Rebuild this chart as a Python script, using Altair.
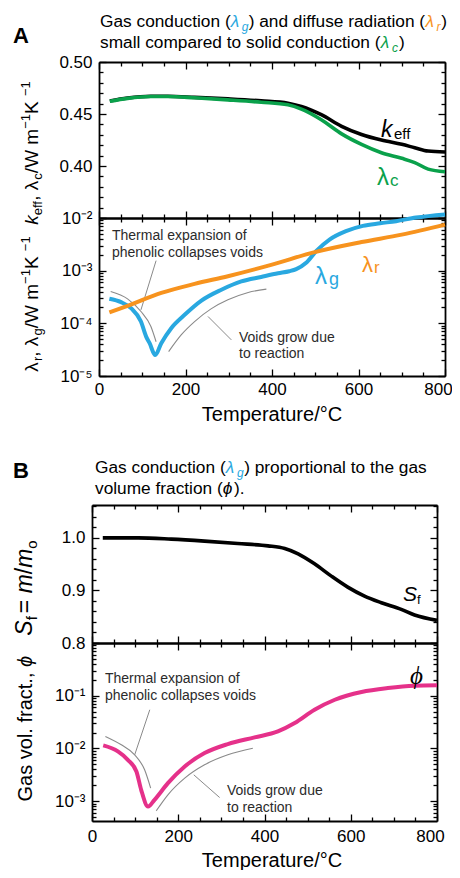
import altair as alt
import pandas as pd

# ------------------------------------------------------------------
# Values
# ------------------------------------------------------------------
# Panel A (top): effective conductivity and solid conduction, W m^-1 K^-1
T_cond = [25, 66, 120, 159, 221, 298, 375, 437, 468, 514, 561, 607, 653, 700, 730, 761, 800]
k_eff = [0.4625, 0.4653, 0.4670, 0.4670, 0.4660, 0.4645, 0.4626, 0.4604, 0.4572, 0.4493,
         0.4382, 0.4303, 0.4249, 0.4208, 0.4176, 0.4144, 0.4135]
lam_c = [0.4622, 0.4650, 0.4668, 0.4668, 0.4656, 0.4636, 0.4613, 0.4588, 0.4547, 0.4445,
         0.4309, 0.4208, 0.4128, 0.4074, 0.4033, 0.3970, 0.3945]

# Panel A (bottom): gas conduction and diffuse radiation
T_gas = [24, 51, 74, 97, 109, 117, 130, 144, 167, 198, 236, 283, 329, 375, 414, 440, 456,
         479, 502, 533, 571, 610, 650, 687, 733, 800]
lam_g = [2.92e-4, 2.52e-4, 1.94e-4, 1.08e-4, 5.6e-5, 4.2e-5, 2.5e-5, 4.2e-5, 8.1e-5, 1.45e-4,
         2.67e-4, 4.34e-4, 6.24e-4, 7.59e-4, 8.91e-4, 9.77e-4, 1.07e-3, 1.41e-3, 2.34e-3,
         3.89e-3, 5.62e-3, 7.08e-3, 7.94e-3, 8.71e-3, 1.02e-2, 1.17e-2]
T_rad = [24, 66, 144, 221, 298, 398, 499, 607, 700, 800]
lam_r = [1.62e-4, 2.15e-4, 3.78e-4, 5.61e-4, 7.85e-4, 1.29e-3, 2.25e-3, 3.49e-3, 4.83e-3, 7.48e-3]

# Panel B (top): mass fraction S_f = m/m0
T_mass = [25, 107, 184, 261, 338, 408, 447, 478, 516, 555, 593, 632, 671, 717, 748, 800]
S_f = [1.0, 1.0, 0.9975, 0.9937, 0.9892, 0.9848, 0.9797, 0.9696, 0.9506, 0.9272, 0.9063,
       0.8892, 0.8766, 0.8639, 0.8532, 0.8430]

# Panel B (bottom): gas volume fraction phi
T_phi = [26, 60, 83, 103, 114, 130, 145, 176, 215, 261, 315, 377, 431, 470, 516, 563, 625,
         686, 748, 800]
phi = [1.14e-2, 8.77e-3, 6.08e-3, 3.66e-3, 1.64e-3, 7.9e-4, 1.06e-3, 2.19e-3, 4.55e-3,
       8.15e-3, 1.21e-2, 1.62e-2, 2.10e-2, 3.03e-2, 5.42e-2, 8.38e-2, 0.1175, 0.1396, 0.1545,
       0.1574]

# Thin grey guide curves and leader lines (annotation)
A_guide_left_T = [27, 66, 97, 120, 132]
A_guide_left_v = [4.03e-4, 2.92e-4, 1.68e-4, 8.7e-5, 4.47e-5]
A_guide_right_T = [161, 190, 221, 259, 298, 345, 387]
A_guide_right_v = [2.91e-5, 6.04e-5, 1.08e-4, 1.88e-4, 2.79e-4, 3.85e-4, 4.46e-4]
A_lead_thermal_T = [97, 132]
A_lead_thermal_v = [1.8e-4, 1.55e-3]
A_lead_voids_T = [252, 306]
A_lead_voids_v = [1.35e-4, 4.85e-5]

B_guide_left_T = [31, 68, 99, 122, 136]
B_guide_left_v = [1.69e-2, 1.17e-2, 7.57e-3, 3.93e-3, 1.77e-3]
B_guide_right_T = [149, 176, 215, 261, 315, 373]
B_guide_right_v = [6.55e-4, 1.32e-3, 2.73e-3, 4.89e-3, 7.57e-3, 1.01e-2]
B_lead_thermal_T = [99, 134]
B_lead_thermal_v = [7.57e-3, 5.42e-2]
B_lead_voids_T = [236, 296]
B_lead_voids_v = [3.16e-3, 1.17e-3]

# Tick values / labels
X_MAJOR = [0, 200, 400, 600, 800]
X_LABELS = [0, 200, 400, 600]
X_LAST_LABEL = [800]
X_MINOR = [50, 100, 150, 250, 300, 350, 450, 500, 550, 650, 700, 750]
A_TOP_MAJOR = [0.35, 0.40, 0.45, 0.50]
A_TOP_MINOR = [0.36, 0.37, 0.38, 0.39, 0.41, 0.42, 0.43, 0.44, 0.46, 0.47, 0.48, 0.49]
A_TOP_LABELS = [0.40, 0.45, 0.50]
B_TOP_MAJOR = [0.8, 0.9, 1.0]
B_TOP_MINOR = [0.82, 0.84, 0.86, 0.88, 0.92, 0.94, 0.96, 0.98, 1.02, 1.04, 1.06]
B_TOP_LABELS = [0.8, 0.9, 1.0]
A_BOT_MAJOR = [1e-5, 1e-4, 1e-3, 1e-2]
A_BOT_MINOR = [k * 10.0 ** e for e in (-5, -4, -3) for k in range(2, 10)]
A_BOT_LABELS = [1e-5, 1e-4, 1e-3, 1e-2]
B_BOT_MAJOR = [1e-3, 1e-2, 1e-1, 1.0]
B_BOT_MINOR = [k * 10.0 ** e for e in (-4, -3, -2, -1) for k in range(2, 10)
               if k * 10.0 ** e > 4.3e-4]
B_BOT_LABELS = [1e-3, 1e-2, 1e-1]

# ------------------------------------------------------------------
# Layout (pixels inside the drawing area) and styles
# ------------------------------------------------------------------
W, H = 444, 862
FONT = "Liberation Sans"
BLUE, ORANGE, GREEN, PINK = "#29A8E0", "#F7931E", "#0AA14B", "#E5318A"
GREY, NOTE = "#8a8a8a", "#2b2b2b"

PANELS = {
    "A_top": dict(xr=(91, 437), yr=(210, 54), ydom=[0.35, 0.50], ytype="linear",
                  ymaj=A_TOP_MAJOR, ymin=A_TOP_MINOR, ylab=A_TOP_LABELS, yfmt=".2f",
                  xlab=False, lpad=6),
    "A_bot": dict(xr=(91, 437), yr=(368, 210), ydom=[1e-5, 1e-2], ytype="log",
                  ymaj=A_BOT_MAJOR, ymin=A_BOT_MINOR, ylab=A_BOT_LABELS, yfmt=None,
                  xlab=True, lpad=5.5),
    "B_top": dict(xr=(84, 429), yr=(635, 497), ydom=[0.8, 1.0625], ytype="linear",
                  ymaj=B_TOP_MAJOR, ymin=B_TOP_MINOR, ylab=B_TOP_LABELS, yfmt=".1f",
                  xlab=False, lpad=6),
    "B_bot": dict(xr=(84, 429), yr=(813, 635), ydom=[4.2e-4, 1.0], ytype="log",
                  ymaj=B_BOT_MAJOR, ymin=B_BOT_MINOR, ylab=B_BOT_LABELS, yfmt=None,
                  xlab=True, lpad=7.5),
}

POW_EXPR = ("datum.value < 5e-5 ? '10⁻⁵' : datum.value < 5e-4 ? '10⁻⁴' : "
            "datum.value < 5e-3 ? '10⁻³' : datum.value < 5e-2 ? '10⁻²' : '10⁻¹'")

AX = dict(grid=False, title=None, domainColor="black", tickColor="black",
          labelColor="black", labelFont=FONT, labelFontSize=17, domainWidth=1.8,
          tickWidth=1.3, labelOverlap=False)


def xscale(p):
    return alt.Scale(type="linear", domain=[0, 800], range=list(p["xr"]), nice=False, zero=False)


def yscale(p):
    if p["ytype"] == "log":
        return alt.Scale(type="log", domain=p["ydom"], range=list(p["yr"]), nice=False)
    return alt.Scale(type="linear", domain=p["ydom"], range=list(p["yr"]), nice=False, zero=False)


def axis_layers(p):
    x0, x1 = p["xr"]
    yb, yt = p["yr"]
    df = pd.DataFrame({"x": [0], "y": [p["ydom"][0]]})
    ylab_kw = dict(format=p["yfmt"]) if p["yfmt"] else dict(labelExpr=POW_EXPR)
    pairs = [
        # labels + left / bottom frame lines
        (alt.Axis(orient="bottom", offset=yb - H, values=X_LABELS, ticks=False, tickSize=0,
                  labels=p["xlab"], labelPadding=p["lpad"], labelFlush=False, format="d",
                  domain=True, **AX),
         alt.Axis(orient="left", offset=-x0, values=p["ylab"], ticks=False, tickSize=0,
                  labelPadding=7, domain=True, **ylab_kw, **AX)),
        # inward major ticks, bottom & left
        (alt.Axis(orient="top", offset=-yb, values=X_MAJOR, tickSize=7, labels=False,
                  domain=False, **AX),
         alt.Axis(orient="right", offset=x0 - W, values=p["ymaj"], tickSize=7, labels=False,
                  domain=False, **AX)),
        # inward minor ticks, bottom & left
        (alt.Axis(orient="top", offset=-yb, values=X_MINOR, tickSize=4, labels=False,
                  domain=False, **AX),
         alt.Axis(orient="right", offset=x0 - W, values=p["ymin"], tickSize=4, labels=False,
                  domain=False, **AX)),
        # top & right frame lines with inward major ticks
        (alt.Axis(orient="bottom", offset=yt - H, values=X_MAJOR, tickSize=7, labels=False,
                  domain=True, **AX),
         alt.Axis(orient="left", offset=-x1, values=p["ymaj"], tickSize=7, labels=False,
                  domain=True, **AX)),
        # top & right inward minor ticks
        (alt.Axis(orient="bottom", offset=yt - H, values=X_MINOR, tickSize=4, labels=False,
                  domain=False, **AX),
         alt.Axis(orient="left", offset=-x1, values=p["ymin"], tickSize=4, labels=False,
                  domain=False, **AX)),
    ]
    if p["xlab"]:
        # last x label nudged left so that it stays inside the page
        pairs.append((alt.Axis(orient="bottom", offset=yb - H, values=X_LAST_LABEL, ticks=False,
                               tickSize=0, labels=True, labelPadding=p["lpad"],
                               labelFlush=False, labelOffset=-7, format="d", domain=False,
                               **AX),
                      None))
    out = []
    for xa, ya in pairs:
        out.append(alt.Chart(df).mark_point(opacity=0, size=1).encode(
            x=alt.X("x:Q", scale=xscale(p), axis=xa),
            y=alt.Y("y:Q", scale=yscale(p), axis=ya)))
    return out


def line(T, V, p, color, width, interp="monotone"):
    df = pd.DataFrame({"T": T, "v": V})
    return alt.Chart(df).mark_line(color=color, strokeWidth=width, interpolate=interp).encode(
        x=alt.X("T:Q", scale=xscale(p), axis=None),
        y=alt.Y("v:Q", scale=yscale(p), axis=None))


ONE = pd.DataFrame({"k": [0]})

WID = {' ': 278, '!': 278, '(': 333, ')': 333, ',': 278, '-': 333, '.': 278, '/': 278,
       '=': 584, '°': 400, '−': 584, 'λ': 560, 'ϕ': 620,
       'A': 667, 'B': 667, 'C': 722, 'G': 778, 'K': 667, 'S': 667, 'T': 611, 'V': 667,
       'W': 944, 'a': 556, 'b': 556, 'c': 500, 'd': 556, 'e': 556, 'f': 278, 'g': 556,
       'h': 556, 'i': 222, 'k': 500, 'l': 222, 'm': 833, 'n': 556, 'o': 556, 'p': 556,
       'r': 333, 's': 500, 't': 278, 'u': 556, 'v': 500, 'x': 500, 'y': 500}


def tw(s, size):
    return sum(WID.get(ch, 556) for ch in s) * size / 1000.0


def txt(x, y, s, size, color="black", style="normal", weight="normal", angle=0,
        font=FONT, align="left"):
    return alt.Chart(ONE).mark_text(
        text=s, fontSize=size, color=color, fontStyle=style, fontWeight=weight,
        angle=angle, font=font, align=align, baseline="alphabetic").encode(
        x=alt.value(x), y=alt.value(y))


def seg_line(x, y, segs):
    out = []
    for s, size, color, style, shift, gap in segs:
        out.append(txt(x, y + shift, s, size, color, style))
        x += tw(s, size) + gap
    return out


def seg_rot(xb, yc, segs):
    total = sum(tw(sg[0], sg[1]) + sg[5] for sg in segs)
    y = yc + total / 2
    out = []
    for s, size, color, style, shift, gap in segs:
        out.append(txt(xb + shift, y, s, size, color, style, angle=270))
        y -= tw(s, size) + gap
    return out


layers = []
for p in PANELS.values():
    layers += axis_layers(p)

PA, PB = PANELS["A_bot"], PANELS["B_bot"]
# grey guides and leader lines
for T, V in [(A_guide_left_T, A_guide_left_v), (A_guide_right_T, A_guide_right_v)]:
    layers.append(line(T, V, PA, GREY, 1.1))
for T, V in [(A_lead_thermal_T, A_lead_thermal_v), (A_lead_voids_T, A_lead_voids_v)]:
    layers.append(line(T, V, PA, GREY, 1.0, "linear"))
for T, V in [(B_guide_left_T, B_guide_left_v), (B_guide_right_T, B_guide_right_v)]:
    layers.append(line(T, V, PB, GREY, 1.1))
for T, V in [(B_lead_thermal_T, B_lead_thermal_v), (B_lead_voids_T, B_lead_voids_v)]:
    layers.append(line(T, V, PB, GREY, 1.0, "linear"))

# data curves
layers.append(line(T_cond, k_eff, PANELS["A_top"], "black", 3.6))
layers.append(line(T_cond, lam_c, PANELS["A_top"], GREEN, 3.6))
layers.append(line(T_gas, lam_g, PA, BLUE, 4))
layers.append(line(T_rad, lam_r, PA, ORANGE, 4))
layers.append(line(T_mass, S_f, PANELS["B_top"], "black", 3.6))
layers.append(line(T_phi, phi, PB, PINK, 4))

# panel letters and headers
F = 17.3
K = "black"
layers.append(txt(5, 35, "A", 22, weight="bold"))
layers += seg_line(92, 19, [("Gas conduction (", F, K, "normal", 0, 0),
                            ("λ", F, BLUE, "italic", 0, 1.2), ("g", 12, BLUE, "italic", 4, 0.3),
                            (") and diffuse radiation (", F, K, "normal", 0, 0),
                            ("λ", F, ORANGE, "italic", 0, 1.2),
                            ("r", 12, ORANGE, "italic", 4, 0.8),
                            (")", F, K, "normal", 0, 0)])
layers += seg_line(92, 40, [("small compared to solid conduction (", F, K, "normal", 0, 0),
                            ("λ", F, GREEN, "italic", 0, 1.5), ("c", 12, GREEN, "italic", 4, 1.0),
                            (")", F, K, "normal", 0, 0)])
layers.append(txt(5, 470, "B", 22, weight="bold"))
layers += seg_line(87, 465, [("Gas conduction (", F, K, "normal", 0, 0),
                             ("λ", F, BLUE, "italic", 0, 1.5), ("g", 12, BLUE, "italic", 4, 0.5),
                             (") proportional to the gas", F, K, "normal", 0, 0)])
layers += seg_line(87, 486, [("volume fraction (", F, K, "normal", 0, 0),
                             ("ϕ", F, K, "italic", 0, 0.5), (").", F, K, "normal", 0, 0)])

# y-axis titles (rotated)
Y = 19
s = 13
layers += seg_rot(30, 145, [("k", Y, K, "italic", 0, 0), ("eff", s, K, "normal", 4, 0),
                            (", ", Y, K, "normal", 0, 0), ("λ", Y, K, "normal", 0, 0),
                            ("c", s, K, "normal", 4, 0), ("/W m", Y, K, "normal", 0, 0),
                            ("−1", s, K, "normal", -8, 0), (" K", Y, K, "normal", 0, 0),
                            ("−1", s, K, "normal", -8, 0)])
layers += seg_rot(30, 296, [("λ", Y, K, "normal", 0, 0), ("r", s, K, "normal", 4, 0),
                            (", ", Y, K, "normal", 0, 0), ("λ", Y, K, "normal", 0, 0),
                            ("g", s, K, "normal", 4, 0), ("/W m", Y, K, "normal", 0, 0),
                            ("−1", s, K, "normal", -8, 0), (" K", Y, K, "normal", 0, 0),
                            ("−1", s, K, "normal", -8, 0)])
layers += seg_rot(24, 580, [("S", 23, K, "italic", 0, 0), ("f", 15, K, "normal", 5, 3),
                            ("= ", 23, K, "normal", 0, 0), ("m", 23, K, "italic", 0, 0),
                            ("/", 23, K, "normal", 0, 0), ("m", 23, K, "italic", 0, 0),
                            ("o", 15, K, "normal", 5, 0)])
layers += seg_rot(24, 720, [("Gas vol. fract., ", 20, K, "normal", 0, 0),
                            ("ϕ", 20, K, "italic", 0, 0)])

# x-axis titles
layers.append(txt(264, 413, "Temperature/°C", 20, align="center"))
layers.append(txt(264, 859, "Temperature/°C", 20, align="center"))

# curve labels
layers.append(txt(373, 129, "k", 23, style="italic"))
layers.append(txt(386, 131, "eff", 15))
layers.append(txt(369, 177, "λ", 24, GREEN))
layers.append(txt(382, 178, "c", 17, GREEN))
layers.append(txt(307, 276, "λ", 24, BLUE))
layers.append(txt(321, 277, "g", 18, BLUE))
layers.append(txt(354, 264, "λ", 22, ORANGE))
layers.append(txt(366, 265, "r", 17, ORANGE))
layers.append(txt(395, 593, "S", 21, style="italic"))
layers.append(txt(409, 596, "f", 13))
layers.append(txt(402, 676, "ϕ", 25, style="italic", font="Liberation Serif"))

# annotation notes
for (x, y, t) in [(104, 232, "Thermal expansion of"), (104, 249, "phenolic collapses voids"),
                  (231, 334, "Voids grow due"), (231, 350, "to reaction"),
                  (97, 675, "Thermal expansion of"), (97, 692, "phenolic collapses voids"),
                  (219, 787, "Voids grow due"), (219, 804, "to reaction")]:
    layers.append(txt(x, y, t, 14, NOTE))

chart = alt.layer(*layers).resolve_scale(
    x="independent", y="independent"
).resolve_axis(
    x="independent", y="independent"
).properties(
    width=W, height=H, padding=0, autosize=alt.AutoSizeParams(type="none"),
    background="white"
).configure_view(stroke=None)

chart.save("out.html", embed_options={"renderer": "svg", "actions": False})
